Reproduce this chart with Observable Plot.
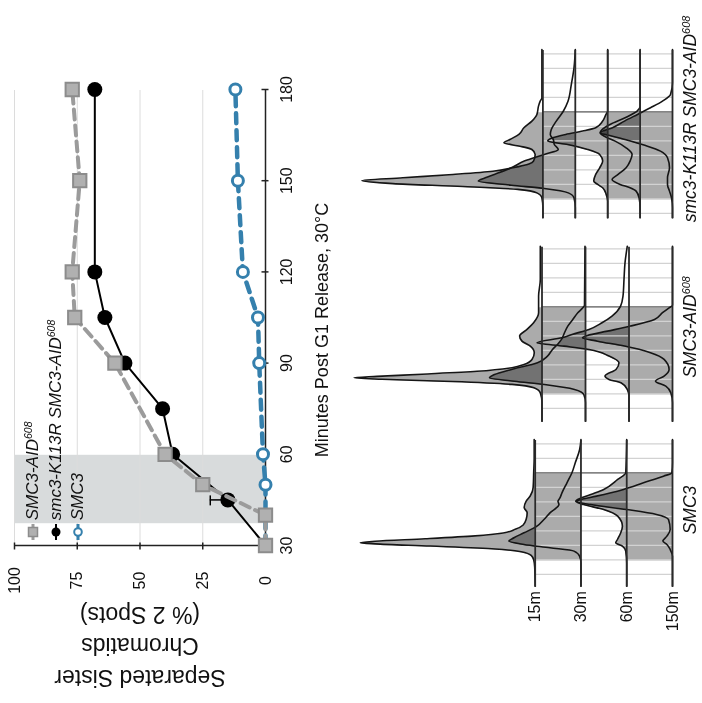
<!DOCTYPE html>
<html><head><meta charset="utf-8">
<script src="https://cdn.jsdelivr.net/npm/d3@7"></script>
<script src="https://cdn.jsdelivr.net/npm/@observablehq/plot@0.6"></script>
<style>
html,body{margin:0;padding:0;background:#fff;overflow:hidden;width:702px;height:703px;}
#fig{position:absolute;left:0;top:0;width:703px;height:702px;transform-origin:0 0;transform:translate(0,703px) rotate(-90deg);font-family:"Liberation Sans",Arial,Helvetica,sans-serif;color:#111;background:#fff;}
.abs{position:absolute;white-space:nowrap;}
.it{font-style:italic;}
sup{font-size:0.62em;vertical-align:0.55em;line-height:0;}
</style></head><body><div id="fig"></div>
<script>
// ---------------- Line chart data ----------------
const timeTicks = [30, 60, 90, 120, 150, 180];
const pctTicks = [0, 25, 50, 75, 100];
const gridPct = [25, 50, 75, 100];
const shadeMinutes = [37.5, 60];

const aidMinutes   = [30, 40, 50, 60, 90, 105, 120, 150, 180];
const aidValues    = [0, 0, 25, 40, 60, 76, 77, 74, 77];
const k113rMinutes = [30, 45, 60, 75, 90, 105, 120, 180];
const k113rValues  = [0, 15, 37, 41, 56, 64, 68, 68];
const smc3Minutes  = [30, 40, 50, 60, 90, 105, 120, 150, 180];
const smc3Values   = [0, 0, 0, 1, 2.5, 3, 9, 11, 12];
const errMinutes   = [45, 90];
const errLow       = [15, 56];
const errHigh      = [22, 59.5];

// ---------------- Flow cytometry (DNA content histograms) ----------------
const dnaGrid = [100, 200, 300, 400, 500, 600, 700, 800, 900, 1000, 1100, 1200];
const gate = [200, 800];
const timeLabels = ["15m", "30m", "60m", "150m"];

const smc3Hist = [
  [[18,0],[150,0.5],[200,1.5],[230,4],[255,14],[275,40],[295,105],[310,160],[318,175],[328,160],[345,110],[365,60],[385,32],[410,20],[440,12],[480,9],[525,8],[560,11],[605,9],[640,5],[700,2],[800,1.5],[900,1],[1030,1]],
  [[18,0],[179,0],[225,1.4],[260,7],[283,31],[306,57],[329,72],[352,67],[386,57],[432,44],[478,37],[524,31],[581,22],[604,23],[627,21],[662,19],[731,14],[800,9],[869,5.7],[961,1.3],[1030,0]],
  [[18,0],[179,0],[260,1],[294,4.3],[317,11],[340,9.3],[386,6],[432,4.3],[501,9],[547,23],[581,43],[604,51],[616,49],[650,36],[685,23],[754,9],[800,1],[1030,0]],
  [[18,0],[225,0],[271,2.3],[306,5.6],[329,9.6],[363,5.6],[409,2.3],[478,4],[513,16],[547,46],[581,82],[604,96],[616,92],[639,76],[685,49],[731,29],[777,9],[800,0.7],[869,0],[1030,0]]
];
const aidHist = [
  [[11,0],[138,0],[207,1.7],[241,8],[265,30],[285,90],[300,160],[310,188],[320,165],[335,120],[355,65],[380,30],[402,18],[437,10],[483,7.7],[529,11.7],[563,20],[598,22.4],[644,15],[690,8.4],[759,3.4],[873,3.4],[988,1.7],[1218,1.7]],
  [[11,0],[138,0],[195,1.7],[230,11],[264,41],[287,71],[310,96],[333,91],[368,74],[414,48],[460,38],[506,33],[540,28],[575,24],[621,21],[667,17.7],[713,12.7],[759,7.7],[793,2.7],[810,1],[1218,0.5]],
  [[11,0],[184,0],[230,1.7],[276,8],[299,20],[322,24],[368,13],[414,10],[460,20],[506,40],[529,65],[552,92],[586,67],[609,57],[644,40],[690,27],[736,17],[805,8.4],[873,6],[988,5],[1103,4],[1218,1.7]],
  [[11,0],[138,0],[207,1.7],[253,6.7],[287,17],[322,8.4],[368,3.4],[437,8.4],[483,22],[529,48],[563,75],[586,90],[602,85],[632,65],[667,42],[713,18],[759,10],[793,3.4],[810,0],[1218,0]]
];
const k113rHist = [
  [[69,0],[138,0],[207,1],[241,6],[265,25],[285,80],[305,150],[326,181],[345,140],[368,90],[390,50],[414,30],[440,14],[460,9.4],[506,7.7],[540,11],[563,23],[586,39],[609,33],[644,24],[690,19],[736,11],[782,6],[839,4.4],[874,2.7],[897,1],[1230,1]],
  [[69,0],[138,0],[207,1.3],[241,7],[271,31],[294,64],[322,97],[345,90],[368,81],[414,64],[460,51],[506,31],[540,17],[575,21],[609,22],[644,25],[678,24],[736,19],[804,12],[873,7.3],[988,4],[1103,1.3],[1230,0]],
  [[69,0],[184,0],[230,1.5],[276,5],[299,10],[322,14],[368,12],[414,8],[460,5],[506,8],[540,20],[575,40],[598,60],[621,55],[644,42],[667,25],[690,12],[736,5],[782,1.7],[804,0],[1230,0]],
  [[69,0],[138,0],[207,1],[253,4],[276,10],[299,20],[333,28],[368,22],[414,14],[460,10],[506,8],[552,14],[598,25],[632,36],[655,40],[678,38],[713,30],[759,15],[804,3],[839,0],[1230,0]],
  [[69,0],[138,0],[207,1],[253,3],[299,5],[345,5],[414,3],[483,5],[529,12],[563,25],[598,42],[632,60],[655,72],[690,60],[736,48],[782,35],[828,22],[874,10],[920,2],[1000,0],[1230,0]]
];
// gated bands (between consecutive rows) shaded within the gate
const smc3Bands = [0, 2];
const aidBands = [0, 2];
const k113rBands = [0, 2, 3];

// ---------------- helpers ----------------
const FONT = '"Liberation Sans", Arial, Helvetica, sans-serif';
const fig = document.getElementById("fig");
function place(el, left, top) {
  el.style.position = "absolute"; el.style.left = left + "px"; el.style.top = top + "px";
  fig.appendChild(el); return el;
}
const zip = (ms, vs) => ms.map((m, i) => ({m, v: vs[i]}));

// ---------------- Line chart ----------------
const aid = zip(aidMinutes, aidValues);
const k113r = zip(k113rMinutes, k113rValues);
const smc3 = zip(smc3Minutes, smc3Values);
const err = errMinutes.map((m, i) => ({m, lo: errLow[i], hi: errHigh[i]}));
const GRAY = "#9b9b9b", BLUE = "#3580ad";

const lineChart = Plot.plot({
  width: 703, height: 300,
  marginLeft: 157, marginRight: 90, marginTop: 14, marginBottom: 35,
  style: {background: "transparent", overflow: "visible", fontFamily: FONT, fontSize: "16px", color: "#111"},
  x: {domain: [30, 180], axis: null},
  y: {domain: [0, 100], axis: null},
  marks: [
    Plot.rect([shadeMinutes], {x1: d => d[0], x2: d => d[1], y1: 0, y2: 100, fill: "#d8dbdc"}),
    Plot.ruleY(gridPct, {y: d => d, stroke: "#dcdcdc", strokeWidth: 1}),
    Plot.ruleY([0], {stroke: "#222", strokeWidth: 1.5}),
    Plot.ruleX([30], {stroke: "#222", strokeWidth: 1.5}),
    Plot.ruleX(timeTicks, {x: d => d, y1: 0, y2: 0, insetTop: 3.5, insetBottom: 3.5, stroke: "#222", strokeWidth: 1.5}),
    Plot.ruleY(pctTicks, {y: d => d, x1: 30, x2: 30, insetLeft: 3.5, insetRight: 3.5, stroke: "#222", strokeWidth: 1.5}),
    Plot.text(timeTicks, {x: d => d, y: 0, dy: 21, text: d => String(d), fontSize: 16}),
    Plot.text(pctTicks, {x: 30, y: d => d, dx: -35, text: d => String(d), fontSize: 16, textAnchor: "middle"}),
    // black series
    Plot.ruleX(err, {x: "m", y1: "lo", y2: "hi", stroke: "#000", strokeWidth: 1.5}),
    Plot.ruleY(err, {y: "hi", x1: "m", x2: "m", insetLeft: -5, insetRight: -5, stroke: "#000", strokeWidth: 1.5}),
    Plot.line(k113r, {x: "m", y: "v", stroke: "#000", strokeWidth: 2}),
    Plot.dot(k113r, {x: "m", y: "v", r: 7.5, fill: "#000"}),
    // blue series
    Plot.line(smc3, {x: "m", y: "v", stroke: BLUE, strokeWidth: 4.5, strokeDasharray: "10,7"}),
    Plot.dot(smc3, {x: "m", y: "v", r: 5.5, fill: "white", stroke: BLUE, strokeWidth: 3}),
    // gray series
    Plot.line(aid, {x: "m", y: "v", stroke: GRAY, strokeWidth: 4, strokeDasharray: "10,6"}),
    Plot.dot(aid, {x: "m", y: "v", symbol: "square", r: 7.5, fill: "#b0b0b0", stroke: "#8c8c8c", strokeWidth: 2})
  ]
});
place(lineChart, 0, 0);

// axis titles
const xTitle = document.createElement("div");
xTitle.className = "abs";
xTitle.style.cssText = "font-size:18px;transform:translate(-50%,-50%);";
xTitle.textContent = "Minutes Post G1 Release, 30°C";
place(xTitle, 373, 322);

const yTitle = document.createElement("div");
yTitle.className = "abs";
yTitle.style.cssText = "font-size:23px;line-height:31.5px;text-align:center;width:260px;transform:translate(-50%,-50%) rotate(-90deg);";
yTitle.innerHTML = "Separated Sister<br>Chromatids<br>(% 2 Spots)";
place(yTitle, 56.5, 140);

// legend
const legendItems = [
  {html: "SMC3-AID<sup>608</sup>", kind: "square"},
  {html: "smc3-K113R SMC3-AID<sup>608</sup>", kind: "dot"},
  {html: "SMC3", kind: "ring"}
];
legendItems.forEach((it, i) => {
  const row = document.createElement("div");
  row.className = "abs";
  row.style.cssText = "display:flex;align-items:center;height:22px;transform:translateY(-50%);";
  let sym;
  if (it.kind === "square") sym = `<line x1="0" x2="16" y1="8" y2="8" stroke="${GRAY}" stroke-width="3"/><rect x="3.5" y="3.5" width="9" height="9" fill="#b0b0b0" stroke="#8c8c8c" stroke-width="1.5"/>`;
  else if (it.kind === "dot") sym = `<line x1="0" x2="16" y1="8" y2="8" stroke="#000" stroke-width="2"/><circle cx="8" cy="8" r="4.5" fill="#000"/>`;
  else sym = `<line x1="0" x2="16" y1="8" y2="8" stroke="${BLUE}" stroke-width="3"/><circle cx="8" cy="8" r="3.8" fill="#fff" stroke="${BLUE}" stroke-width="2"/>`;
  row.innerHTML = `<svg width="16" height="16" style="overflow:visible">${sym}</svg><span class="it" style="font-size:17px;position:relative;left:-1px">&nbsp;${it.html}</span>`;
  place(row, 163, 33 + 22.5 * i);
});

// ---------------- Histogram panels ----------------
const PX_PER_CH = 0.145;
function clipRange(pts, a, b) {
  const out = [];
  for (let i = 0; i < pts.length; i++) {
    const [c, h] = pts[i];
    if (i > 0) {
      const [c0, h0] = pts[i - 1];
      for (const e of [a, b]) if (c0 < e && c > e) out.push([e, h0 + (h - h0) * (e - c0) / (c - c0)]);
    }
    if (c >= a && c <= b) out.push([c, h]);
  }
  return out.sort((p, q) => p[0] - q[0]);
}
function panel({lo, hi, left, gap, hist, bands, rowLabels}) {
  const H = 360, MB = 15;
  const plotW = (hi - lo) * PX_PER_CH;
  const n = hist.length;
  const offs = hist.map((_, i) => (n - 1 - i) * gap);
  const marks = [];
  hist.forEach((pts, i) => {
    const o = offs[i];
    marks.push(Plot.areaY(clipRange(pts, gate[0], gate[1]), {x: d => d[0], y1: o, y2: d => o + d[1], fill: "#000", fillOpacity: 0.33, curve: "monotone-x"}));
  });
  marks.push(Plot.rect(bands, {x1: gate[0], x2: gate[1], y1: b => offs[b + 1], y2: b => offs[b], fill: "#ababab", mixBlendMode: "darken"}));
  marks.push(Plot.ruleX(dnaGrid.filter(g => g > lo && g < hi), {x: d => d, y1: 0, y2: offs[0], stroke: "#d2d2d2", strokeWidth: 1.2}));
  marks.push(Plot.ruleX([gate[1]], {x: d => d, y1: 0, y2: offs[0], stroke: "#666", strokeWidth: 1.2}));
  hist.forEach((pts, i) => {
    const o = offs[i];
    marks.push(Plot.lineY(pts, {x: d => d[0], y: d => o + d[1], stroke: "#151515", strokeWidth: 1.6, curve: "monotone-x"}));
  });
  marks.push(Plot.ruleY(offs, {y: d => d, stroke: "#2a2a2a", strokeWidth: 1.8}));
  if (rowLabels) marks.push(Plot.text(rowLabels, {x: lo, y: (d, i) => offs[i], text: d => d, textAnchor: "end", dx: -5, fontSize: 16}));
  const p = Plot.plot({
    width: 703, height: H,
    marginLeft: left, marginRight: 703 - left - plotW, marginTop: 0, marginBottom: MB,
    style: {background: "transparent", overflow: "visible", fontFamily: FONT, color: "#111"},
    x: {domain: [lo, hi], axis: null},
    y: {domain: [0, H - MB], range: [H - MB, 0], axis: null},
    marks
  });
  place(p, 0, 672.3 - (H - MB));
}
panel({lo: 18, hi: 1030, left: 116.3, gap: 45.77, hist: smc3Hist, bands: smc3Bands, rowLabels: timeLabels});
panel({lo: 11, hi: 1218, left: 281.3, gap: 43.5, hist: aidHist, bands: aidBands});
panel({lo: 69, hi: 1230, left: 484.7, gap: 32.4, hist: k113rHist, bands: k113rBands});

// panel titles
const panelTitles = [
  {html: "SMC3", x: 193},
  {html: "SMC3-AID<sup>608</sup>", x: 376},
  {html: "smc3-K113R SMC3-AID<sup>608</sup>", x: 584}
];
panelTitles.forEach(t => {
  const d = document.createElement("div");
  d.className = "abs it";
  d.style.cssText = "font-size:17.5px;transform:translate(-50%,-50%);";
  d.innerHTML = t.html;
  place(d, t.x, 690);
});
</script></body></html>
